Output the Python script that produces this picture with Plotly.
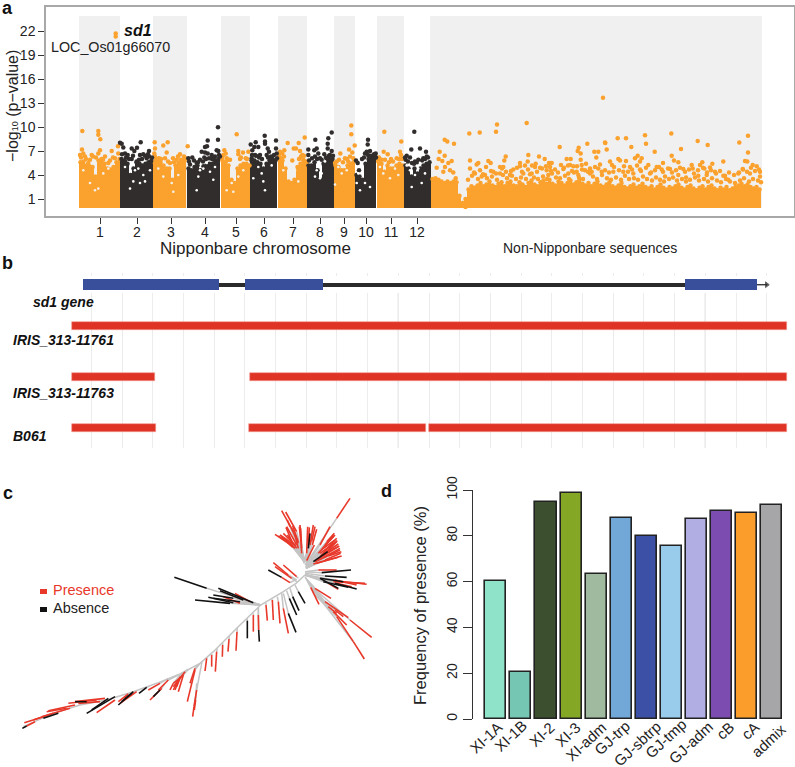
import plotly.graph_objects as go

W, H = 795, 767
FONT = "Liberation Sans"
ORANGE = "#fba12d"
DARK = "#312d2d"

def px(x):
    return x / W

def py(y):
    return 1 - y / H

# ---------- panel a data ----------
chrom_labels = ["1", "2", "3", "4", "5", "6", "7", "8", "9", "10", "11", "12"]
chrom_ticks = [100, 137, 171, 205, 236, 264, 293, 320, 344, 366, 391, 417]
chrom_edges = [79, 120, 153, 187, 221, 250, 278, 307, 334, 355, 377, 404, 430]
non_nip_end = 762
y_ticks = [1, 4, 7, 10, 13, 16, 19, 22]

chrom_envelopes = [
    [5.6, 5.7, 5.2, 5.1, 5.0, 3.8, 5.8, 6.0, 5.4, 4.8, 4.7, 5.0, 5.6, 6.0],
    [6.0, 5.8, 5.4, 4.0, 4.8, 5.6, 5.4, 5.2, 5.4, 5.6, 5.8],
    [5.6, 5.7, 5.6, 5.2, 4.8, 4.8, 3.4, 5.2, 5.5, 5.6, 5.8],
    [4.8, 4.6, 5.0, 5.2, 4.6, 5.1, 5.2, 5.4, 5.4, 5.8, 6.0],
    [5.8, 5.6, 5.2, 3.4, 3.0, 4.8, 5.2, 5.4, 5.4, 5.2],
    [5.8, 5.8, 5.6, 5.4, 4.8, 5.4, 5.8, 5.8, 5.8],
    [6.2, 5.8, 4.8, 3.2, 3.0, 3.4, 5.0, 5.4, 5.8, 5.6],
    [5.2, 5.2, 5.6, 4.6, 3.4, 5.4, 5.8, 6.0, 6.0],
    [5.2, 5.0, 4.6, 4.6, 5.2, 5.4, 5.6],
    [4.0, 3.8, 3.4, 5.4, 6.0, 6.2, 6.0],
    [5.8, 5.4, 4.4, 5.2, 4.8, 4.8, 5.2, 5.4, 5.2],
    [5.2, 4.8, 3.8, 4.8, 4.2, 4.8, 5.2, 5.4, 5.6],
]
scaffold_a_start = 431
scaffold_a_env = [3.5, 3.6, 3.4, 3.2, 3.0, 3.2, 3.0, 3.2, 3.1, 1.4, 0.5, 0.0]
scaffold_b_start = 464
scaffold_b_env = [
    1.0, 2.2, 2.6, 2.4, 2.7, 3.0, 2.6, 2.8, 3.2, 2.7, 2.5, 2.9, 3.1, 2.6, 3.0, 3.2, 2.7, 2.6, 3.1, 2.8,
    2.5, 3.0, 3.3, 2.8, 2.6, 3.1, 3.3, 2.9, 3.4, 2.9, 2.7, 3.2, 3.0, 2.7, 3.0, 3.3, 2.8, 3.1, 3.4, 2.9,
    2.7, 3.0, 2.6, 2.9, 3.2, 2.7, 2.5, 2.8, 3.1, 2.6, 2.4, 2.7, 3.0, 2.5, 2.3, 2.6, 2.8, 2.4, 2.6, 2.9,
    2.5, 2.3, 2.6, 2.2, 2.5, 2.8, 2.4, 2.2, 2.5, 2.3, 2.6, 2.8, 2.4, 2.2, 2.5, 2.7, 2.3, 2.1, 2.4, 2.6,
    2.2, 2.5, 2.7, 2.3, 2.1, 2.4, 2.2, 2.5, 2.1, 2.3, 2.5, 2.7, 2.9, 2.6, 2.8, 2.5, 2.3, 2.5, 2.2,
]

orange_x = [
    82.3, 98.3, 98.3, 100.3, 82, 83.3, 80, 91.7, 85, 90, 88.3, 100, 98.3, 105, 111.7, 118.3, 115, 108.3, 96, 118,
    154.7, 163.3, 167.7, 155, 154.3, 166.7, 173, 180, 187.7, 159, 165, 185, 176.7, 155, 170,
    236.7, 224.3, 225.7, 238.3, 243, 248.3, 238.3, 230, 226.7, 245.7, 240, 223.3,
    304.7, 287.7, 298.7, 293.7, 296, 284.3, 300, 302.3, 292.3, 282.3, 281, 303.3, 306.7,
    351.3, 351.3, 354.7, 349, 340.3, 352.3, 345, 336.7, 348.3, 353.3,
    384.3, 401.3, 383.7, 387.7, 400, 401, 378.3, 391, 396.7, 381.7,
    603, 444.7, 447.3, 454, 439.7, 444.7, 438.7, 442.3, 451.7, 448.3, 445, 453.3, 436.7, 450, 443.3, 455.7,
    469.3, 479.7, 496, 497, 526.7, 470, 488.3, 490.7, 476.7, 478.3, 505.7, 504.3, 500, 503.3, 528.3, 520, 520,
    525, 527.7, 513.3, 539, 535.7, 535, 540, 544.7, 549, 551.7, 550, 546.7, 559.7, 561, 563.3, 566.7, 570.7,
    570, 573.3, 576.7, 578.7, 577.7, 580.7, 594.3, 598.3, 596.3, 580.7, 581.7, 587.3, 598.3, 591.7, 585, 475,
    485, 493.3, 500, 605, 481.7, 510, 523.3, 531.7, 548.3, 568.3, 578.3, 590,
    617.7, 626, 645, 671.3, 605.3, 606.7, 646, 631.3, 654.7, 697.7, 707.7, 681, 748, 739.3, 748, 671.7, 637.7,
    635, 641.7, 640, 674, 678.3, 663, 723.3, 712.3, 702.3, 700, 691.7, 745, 747.3, 752.7, 756.7, 742.7, 760,
    618.3, 620, 626, 610, 612, 630, 640, 648.3, 656.7, 661.7, 670, 683.3, 692.7, 704.3, 710, 715, 723.3, 738.3,
    613.3, 623.3, 633.3, 650, 665, 678.3, 686, 698.3, 706.7, 728.3, 750, 760, 601.7,
    468, 472, 478, 483, 487, 492, 497, 503, 507, 512, 516, 521, 526, 530, 534, 538, 543, 547, 552, 556, 560,
    565, 569, 574, 579, 583, 588, 593, 597, 602, 607, 611, 616, 621, 625, 629, 634, 638, 643, 647, 652, 656,
    660, 664, 669, 673, 677, 682, 686, 690, 695, 699, 704, 708, 712, 717, 721, 726, 730, 735, 740, 744, 749,
    753, 758, 761,
    81, 86, 93, 103, 110, 113,
    156, 161, 168, 174, 181, 184, 178, 222, 228, 241, 247, 279, 280, 284, 301, 304, 299,
    335, 339, 343, 347, 350, 379, 385, 389, 393, 399, 402,
    470, 474, 480, 486, 491, 496, 502, 506, 511, 517, 522, 528, 532, 537, 542, 546, 551, 555, 558, 564, 568,
    572, 577, 582, 586, 590, 595, 600, 605, 609, 614, 619, 624, 628, 632, 637, 641, 646, 651, 655, 659, 663,
    668, 672, 676, 680, 685, 689, 694, 698, 703, 707, 711, 716, 720, 725, 729, 734, 739, 743, 747, 751, 755, 759,
]
orange_y = [
    9.5, 9.5, 9.04, 8.46, 7.2, 6.7, 6.5, 6.5, 6.3, 5.9, 5.5, 7.1, 6.7, 6.3, 7.0, 6.7, 6.1, 5.5, 6.2, 7.6,
    8.1, 7.7, 8.1, 7.3, 6.7, 6.8, 6.1, 6.6, 7.6, 6.1, 6.1, 6.1, 5.9, 6.3, 5.5,
    9.1, 7.1, 6.7, 7.0, 6.8, 6.9, 6.6, 5.9, 6.1, 6.1, 6.0, 6.5,
    8.7, 8.0, 8.0, 7.3, 7.3, 7.1, 7.0, 6.5, 5.8, 6.7, 6.1, 5.9, 5.7,
    10.2, 9.1, 7.7, 7.2, 6.7, 6.8, 6.1, 5.7, 5.7, 6.1,
    9.4, 8.2, 6.9, 6.6, 6.9, 6.5, 5.7, 6.0, 6.1, 5.9,
    13.67, 8.4, 8.2, 7.9, 6.9, 6.4, 6.0, 5.75, 5.75, 5.5, 5.0, 4.3, 4.9, 4.6, 4.4, 3.6,
    9.2, 9.3, 9.4, 10.3, 10.5, 5.8, 5.75, 5.5, 5.3, 5.5, 6.3, 5.8, 5.0, 5.0, 6.5, 5.5, 5.1,
    5.2, 5.7, 4.7, 6.3, 5.4, 5.0, 4.9, 6.0, 5.5, 5.5, 5.0, 4.6, 7.5, 5.25, 4.75, 6.0, 6.0,
    5.25, 5.1, 4.4, 7.4, 7.0, 6.7, 6.9, 6.9, 6.2, 5.9, 5.25, 7.9, 4.8, 4.4, 4.6, 4.2,
    4.0, 4.4, 4.2, 8.05, 3.8, 4.0, 4.2, 4.2, 4.0, 4.2, 4.0, 4.2,
    8.6, 8.6, 8.96, 9.2, 8.0, 7.2, 7.9, 7.5, 6.9, 8.25, 7.75, 7.25, 8.9, 8.05, 6.8, 6.4, 6.4,
    6.1, 6.1, 5.7, 5.8, 5.6, 5.5, 5.7, 5.4, 5.6, 5.25, 5.25, 5.75, 5.7, 5.25, 5.1, 4.75, 4.4,
    6.0, 5.8, 5.75, 5.7, 5.25, 5.0, 4.7, 5.25, 5.0, 4.7, 4.75, 4.75, 4.8, 4.8, 4.95, 4.4, 3.9, 4.2,
    4.4, 4.4, 4.2, 4.2, 3.8, 4.0, 3.7, 3.9, 4.0, 3.4, 4.2, 3.8, 4.4,
    3.4, 3.9, 3.5, 4.1, 3.6, 3.8, 3.4, 4.0, 3.6, 3.9, 3.5, 3.7, 3.5, 4.1, 3.7, 3.5, 3.8, 3.5, 4.2, 3.7, 3.6,
    3.9, 3.5, 4.3, 3.7, 3.5, 4.4, 3.8, 3.5, 4.0, 3.6, 3.4, 3.7, 3.4, 3.9, 3.5, 3.6, 3.4, 3.8, 3.5, 3.3, 3.7,
    3.4, 3.2, 3.5, 3.7, 3.3, 3.5, 3.2, 3.4, 3.7, 3.3, 3.5, 3.2, 3.6, 3.3, 3.1, 3.5, 3.2, 3.0, 3.3, 3.6, 3.2,
    3.5, 3.3, 3.1,
    6.2, 6.0, 6.3, 5.9, 5.8, 6.2,
    6.0, 6.0, 5.7, 5.6, 5.9, 6.3, 6.3, 6.2, 5.9, 6.2, 6.0, 6.6, 6.9, 6.3, 6.3, 6.4, 6.0,
    5.5, 5.9, 5.6, 6.0, 6.3, 6.2, 5.9, 5.6, 5.7, 6.0, 6.0,
    4.8, 4.3, 4.6, 5.0, 4.5, 4.2, 4.8, 4.4, 4.5, 4.9, 4.4, 4.7, 5.2, 4.4, 4.8, 5.1, 4.5, 4.7, 4.3, 4.9, 5.2,
    4.5, 5.1, 4.7, 5.4, 4.8, 5.0, 5.3, 4.6, 4.3, 5.0, 4.6, 5.1, 4.4, 4.7, 5.2, 4.5, 4.9, 4.3, 4.6, 5.0, 4.4,
    4.8, 4.3, 4.6, 4.9, 4.4, 4.7, 4.2, 4.6, 4.9, 4.3, 4.6, 4.2, 4.5, 3.9, 4.3, 4.0, 4.3, 4.7, 4.4, 4.9, 4.5, 4.7,
]
dark_x = [
    120, 121.7, 123.3, 125, 131.7, 134.3, 137, 140.7, 149, 143.3, 140, 131.7, 149, 136.7, 127.7, 151, 146.7, 125,
    218, 218, 207.7, 207, 205, 201.7, 205, 207.7, 216.7, 218.3, 211.7, 200, 204.3, 215, 209, 196.7, 188.3, 192.3, 189, 196.7,
    264.7, 276, 255.7, 250.7, 265, 265, 254.3, 252.3, 267.7, 276, 258.3, 255, 266.7, 260, 272.3, 269, 251.7, 276.7,
    315.3, 308.3, 314.3, 331.7, 328.3, 327.7, 327.7, 316.7, 318.3, 324.3, 331.7, 329, 315, 321.7, 308.3,
    368, 367.7, 356, 357.7, 366.7, 370, 375.7, 375, 365, 372.3,
    414.3, 411.3, 420, 426, 406.7, 410, 418.3, 423.3, 426.7, 415, 405.7,
    122, 126, 129, 133, 139, 142, 145, 148, 152, 190, 194, 198, 203, 206, 212, 214, 219, 220,
    252, 256, 259, 262, 268, 271, 274, 277, 309, 312, 317, 320, 326, 330, 333,
    359, 362, 364, 368, 371, 374, 376, 405, 408, 412, 414, 417, 422, 425, 428,
]
dark_y = [
    8.04, 7.9, 7.45, 6.7, 7.3, 7.0, 7.4, 8.1, 7.0, 6.6, 6.5, 6.0, 6.3, 5.7, 6.5, 5.7, 6.1, 5.7,
    9.96, 8.4, 8.3, 7.6, 7.5, 6.9, 6.8, 6.7, 7.1, 7.0, 6.5, 5.9, 6.2, 6.3, 6.1, 4.8, 6.1, 6.2, 5.7, 5.5,
    8.9, 8.3, 8.1, 7.8, 8.2, 7.9, 7.5, 7.1, 7.3, 7.3, 7.5, 6.5, 6.5, 6.5, 6.1, 6.9, 6.1, 6.7,
    8.4, 7.2, 7.1, 9.3, 8.6, 7.9, 7.3, 7.3, 6.7, 6.6, 7.0, 6.4, 6.3, 5.9, 6.5,
    8.4, 7.8, 5.8, 5.5, 6.9, 7.0, 6.7, 6.3, 6.7, 6.1,
    9.4, 7.2, 7.3, 6.9, 6.4, 6.2, 5.9, 6.1, 6.3, 5.7, 5.9,
    6.6, 6.2, 6.0, 6.4, 5.9, 6.0, 6.4, 6.6, 6.2, 5.3, 5.8, 5.6, 5.7, 6.0, 6.0, 5.9, 6.5, 6.3,
    6.5, 6.4, 6.2, 6.0, 6.2, 6.3, 6.5, 6.1, 5.8, 6.1, 6.0, 6.1, 6.2, 6.5, 6.4,
    4.6, 6.0, 6.2, 6.5, 6.4, 6.6, 6.2, 6.2, 5.7, 5.5, 5.4, 5.6, 5.8, 6.0, 6.2,
]
sd1_x = [115.7, 115.7]
sd1_y = [21.7, 21.3]

# small gaps inside the dense clouds
gap_dark_x = [133.3, 135, 130, 143.3, 145, 125, 138.3, 150, 140, 198.3, 196.7, 210, 203.3, 215, 206.7, 200, 213.3,
              263.3, 261.7, 265, 258.3, 271.7, 253.3, 320, 316.7, 318.3, 321.7, 325, 315, 356.7, 358.3, 361.7, 365,
              360, 370, 415, 421.7, 418.3, 410, 411.7, 425, 406.7, 420]
gap_dark_y = [3.2, 4.6, 2.3, 4.0, 3.2, 5.0, 4.8, 4.6, 3.0, 3.8, 2.1, 4.4, 4.8, 5.0, 5.5, 4.6, 3.4,
              3.2, 4.2, 2.1, 5.0, 5.2, 3.6, 3.6, 4.6, 5.2, 4.2, 5.7, 3.8, 3.0, 4.2, 5.0, 3.0,
              2.1, 2.5, 4.0, 3.0, 4.8, 4.6, 2.5, 4.2, 5.2, 5.5]
gap_orange_x = [90, 95, 98.3, 83.3, 108.3, 103.3, 173.3, 171.7, 163.3, 178.3, 158.3, 226.7, 231.7, 233.3, 238.3, 243.3,
                290, 295, 283.3, 298.3, 341.7, 338.3, 346.7, 335, 383.3, 390, 395, 380, 398.3]
gap_orange_y = [3.0, 2.1, 2.3, 4.6, 4.8, 4.2, 1.9, 3.0, 3.8, 4.0, 4.8, 2.1, 3.0, 1.9, 3.8, 4.6,
                3.8, 4.6, 4.6, 3.2, 4.2, 5.0, 4.6, 2.8, 4.2, 3.6, 4.8, 5.0, 4.0]

# ---------- panel b data ----------
grid_bp = list(range(0, 2300, 100))
major_grid_bp = [1000, 2000]
exon_starts = [-28, 500, 1934]
exon_ends = [417, 756, 2168]
intron_span = [417, 1934]
arrow_end = 2200
sample_rows = [0, 1, 1, 2, 2, 2]
sample_starts = [-63, -63, 517, -63, 513, 1100]
sample_ends = [2266, 208, 2266, 212, 1090, 2266]

# ---------- panel c data (tree layout units) ----------
trunk_x = [915, 888, 850, 782, 720, 640, 600, 540, 470, 400, 320, 240, 160, 70]
trunk_y = [315, 340, 365, 405, 465, 545, 580, 612, 640, 665, 690, 705, 730, 770]
presence_branches = [
    (915, 285, 1010, 145, 1050, 85), (913, 275, 880, 185, 845, 122), (913, 275, 890, 185, 857, 126),
    (913, 275, 880, 230, 825, 193), (913, 280, 890, 225, 860, 170), (913, 280, 895, 220, 875, 175),
    (913, 270, 905, 250, 900, 165), (913, 275, 885, 235, 845, 200), (913, 270, 920, 250, 923, 170),
    (915, 270, 930, 225, 940, 165), (916, 275, 937, 225, 950, 178), (918, 278, 920, 272, 943, 225),
    (918, 285, 960, 225, 990, 170), (918, 285, 955, 250, 1005, 195), (918, 290, 960, 260, 1010, 205),
    (918, 290, 950, 270, 1015, 230), (918, 290, 945, 275, 1020, 240), (918, 295, 940, 282, 1025, 258),
    (918, 295, 960, 250, 1000, 220), (915, 305, 955, 300, 1010, 300), (915, 315, 1005, 332, 1100, 343),
    (915, 315, 1005, 330, 1070, 345), (915, 315, 985, 340, 1015, 358), (895, 325, 890, 320, 850, 285),
    (890, 330, 865, 315, 820, 278), (890, 335, 875, 325, 825, 290), (885, 330, 870, 338, 845, 322),
    (915, 320, 932, 352, 957, 403), (918, 325, 945, 355, 993, 385), (925, 335, 975, 395, 1045, 443),
    (930, 345, 1050, 450, 1115, 502), (935, 350, 985, 410, 1010, 430), (935, 355, 1060, 515, 1093, 567),
    (945, 375, 1010, 440, 1060, 515), (845, 370, 850, 415, 865, 490), (832, 380, 835, 395, 840, 460),
    (815, 388, 817, 390, 820, 450), (798, 398, 798, 405, 802, 452), (775, 412, 775, 435, 776, 480),
    (760, 430, 760, 435, 760, 485), (712, 472, 711, 485, 708, 542), (688, 498, 687, 507, 684, 545),
    (668, 518, 668, 525, 667, 560), (652, 535, 650, 545, 646, 605), (636, 552, 635, 555, 635, 590),
    (622, 562, 620, 565, 615, 603), (782, 405, 750, 395, 705, 370), (782, 405, 720, 400, 670, 380),
    (606, 575, 590, 660, 582, 710), (590, 660, 582, 710, 578, 740), (600, 580, 585, 600, 562, 695),
    (600, 580, 585, 595, 570, 640), (565, 598, 555, 605, 520, 650), (560, 600, 550, 615, 535, 665),
    (555, 605, 540, 620, 525, 660), (535, 615, 505, 630, 475, 660), (505, 625, 480, 640, 445, 660),
    (495, 640, 485, 655, 450, 690), (410, 665, 410, 665, 360, 700), (345, 690, 345, 690, 290, 728),
    (315, 685, 315, 685, 225, 695), (225, 705, 225, 705, 145, 722), (210, 715, 210, 715, 125, 740),
    (130, 740, 130, 740, 73, 758), (105, 755, 105, 755, 80, 768),
    (913, 275, 885, 225, 850, 190), (913, 275, 888, 228, 840, 195), (913, 275, 880, 225, 858, 172),
    (913, 275, 895, 215, 878, 168), (913, 270, 903, 215, 898, 170), (913, 270, 905, 235, 902, 175),
    (915, 270, 925, 225, 928, 172), (915, 270, 935, 215, 945, 170), (918, 285, 965, 240, 1000, 195),
    (918, 285, 970, 235, 1005, 210), (918, 290, 975, 250, 1010, 215), (918, 290, 965, 255, 1015, 222),
    (918, 292, 970, 262, 1020, 235), (918, 295, 975, 270, 1022, 250), (918, 295, 950, 280, 1015, 262),
    (915, 315, 1000, 335, 1095, 340), (915, 315, 1010, 340, 1055, 350), (938, 360, 1000, 425, 1040, 465),
    (940, 365, 1005, 420, 1030, 440), (565, 598, 545, 620, 520, 640), (560, 600, 540, 625, 530, 650),
    (550, 610, 535, 630, 520, 660), (545, 610, 520, 640, 510, 660), (590, 640, 587, 690, 583, 720),
    (400, 668, 400, 668, 375, 685), (385, 672, 385, 672, 355, 695), (300, 695, 300, 695, 235, 700),
    (290, 690, 290, 690, 205, 700), (200, 715, 200, 715, 140, 725), (160, 730, 160, 730, 100, 750),
    (913, 275, 875, 225, 835, 198), (913, 275, 878, 232, 850, 205), (913, 275, 890, 235, 862, 195),
    (913, 275, 870, 170, 862, 150), (913, 275, 895, 235, 885, 195), (918, 285, 975, 225, 1000, 200),
    (918, 285, 980, 215, 1003, 190), (918, 290, 985, 235, 1012, 212), (918, 292, 985, 245, 1018, 228),
    (918, 295, 985, 258, 1024, 245),
]
absence_branches = [
    (916, 270, 925, 235, 930, 190), (918, 295, 940, 275, 983, 245), (915, 305, 965, 308, 1053, 300),
    (915, 310, 975, 318, 1040, 322), (915, 315, 960, 325, 1030, 335), (915, 315, 1005, 340, 1070, 357),
    (915, 315, 960, 325, 1015, 355), (845, 322, 845, 322, 805, 300), (885, 345, 895, 365, 915, 400),
    (870, 355, 878, 380, 897, 422), (860, 362, 868, 385, 890, 435), (850, 370, 865, 430, 888, 487),
    (775, 412, 776, 480, 778, 515), (742, 445, 742, 452, 742, 505), (782, 405, 620, 355, 523, 322),
    (782, 405, 700, 385, 640, 375), (782, 405, 760, 398, 655, 355), (782, 405, 690, 400, 585, 390),
    (782, 405, 700, 398, 625, 382), (485, 655, 480, 660, 460, 680), (445, 650, 440, 652, 417, 670),
    (405, 665, 400, 665, 355, 705), (345, 680, 345, 680, 260, 730), (325, 685, 325, 685, 275, 720),
    (260, 695, 260, 695, 225, 695), (175, 730, 175, 730, 130, 745), (80, 768, 80, 768, 67, 775),
    (782, 405, 730, 390, 660, 362), (782, 405, 720, 395, 640, 385), (915, 312, 970, 335, 1045, 352),
    (395, 670, 395, 670, 365, 695),
]

# ---------- panel d data ----------
groups = ["XI-1A", "XI-1B", "XI-2", "XI-3", "XI-adm", "GJ-trp", "GJ-sbtrp", "GJ-tmp", "GJ-adm", "cB", "cA", "admix"]
presence_freq = [60.4, 20.7, 94.8, 98.6, 63.3, 87.8, 79.9, 75.7, 87.5, 90.8, 90.0, 93.3]
group_colors = ["#8fe3c8", "#75c7b4", "#3c4f2e", "#84a826", "#9fba9e", "#72a8d8",
                "#3c50a5", "#99cbea", "#b0aee3", "#7d4cb0", "#fa9d2b", "#a6a6a8"]
freq_ticks = [0, 20, 40, 60, 80, 100]
group_label_x = [485.7, 511, 541.7, 567.7, 586, 612.3, 637.3, 665.7, 690.7, 725, 750, 768.3]
group_label_y = [737.3, 735.7, 734.3, 734.3, 741.7, 737.3, 743, 738.3, 742.3, 730, 730, 740]

fig = go.Figure()

# ---------- panel a ----------
shade_pairs = [(chrom_edges[i], chrom_edges[i + 1]) for i in range(0, 12, 2)] + [(chrom_edges[12], non_nip_end)]
for x0, x1 in shade_pairs:
    fig.add_shape(type="rect", xref="x", yref="y", x0=x0, x1=x1, y0=-0.125, y1=23.875,
                  fillcolor="#f0f0f0", line_width=0, layer="below")

def add_envelope(start, values, color):
    xs = [start + 1.5 + 3 * i for i in range(len(values))]
    fig.add_trace(go.Bar(x=xs, y=[v + 0.1 for v in values], base=-0.1, width=3.1, marker_color=color,
                         marker_line_width=0, xaxis="x", yaxis="y", showlegend=False))
    fig.add_trace(go.Scatter(x=xs, y=values, mode="markers", marker=dict(size=4.5, color=color),
                             xaxis="x", yaxis="y", showlegend=False))

for i, env in enumerate(chrom_envelopes):
    add_envelope(chrom_edges[i], env, ORANGE if i % 2 == 0 else DARK)
add_envelope(scaffold_a_start, scaffold_a_env, ORANGE)
add_envelope(scaffold_b_start, scaffold_b_env, ORANGE)

fig.add_trace(go.Scatter(x=orange_x, y=orange_y, mode="markers", marker=dict(size=4.5, color=ORANGE),
                         xaxis="x", yaxis="y", showlegend=False))
fig.add_trace(go.Scatter(x=dark_x, y=dark_y, mode="markers", marker=dict(size=4.5, color=DARK),
                         xaxis="x", yaxis="y", showlegend=False))
fig.add_trace(go.Scatter(x=gap_dark_x, y=gap_dark_y, mode="markers", marker=dict(size=2.6, color="#ffffff"),
                         xaxis="x", yaxis="y", showlegend=False))
fig.add_trace(go.Scatter(x=gap_orange_x, y=gap_orange_y, mode="markers", marker=dict(size=2.6, color="#f4f0e8"),
                         xaxis="x", yaxis="y", showlegend=False))
fig.add_trace(go.Scatter(x=sd1_x, y=sd1_y, mode="markers", marker=dict(size=4.5, color=ORANGE),
                         xaxis="x", yaxis="y", showlegend=False))

# ---------- panel b ----------
for b in major_grid_bp:
    fig.add_shape(type="line", xref="x2", yref="paper", x0=b, x1=b, y0=py(448), y1=py(293),
                  line=dict(color="#d2d2d2", width=1.3), layer="below")

fig.add_trace(go.Bar(y=[-0.81], x=[2590], base=[-297], width=[0.33], orientation="h", marker_color="white",
                     marker_line_width=0, xaxis="x2", yaxis="y2", showlegend=False))
fig.add_trace(go.Bar(y=[-0.81], x=[intron_span[1] - intron_span[0]], base=[intron_span[0]], width=[0.08],
                     orientation="h", marker_color="#2b2b2b", marker_line_width=0, xaxis="x2", yaxis="y2",
                     showlegend=False))
fig.add_trace(go.Scatter(x=[exon_ends[-1], arrow_end], y=[-0.81, -0.81], mode="lines+markers",
                         line=dict(color="#2b2b2b", width=1.3),
                         marker=dict(symbol="triangle-right", size=[0, 5], color="#111111"),
                         xaxis="x2", yaxis="y2", showlegend=False))
fig.add_trace(go.Bar(y=[-0.81] * len(exon_starts), x=[e - s for s, e in zip(exon_starts, exon_ends)],
                     base=exon_starts, width=0.215, orientation="h", marker_color="#394f9c",
                     marker_line_width=0, xaxis="x2", yaxis="y2", showlegend=False))
fig.add_trace(go.Bar(y=sample_rows, x=[e - s for s, e in zip(sample_starts, sample_ends)],
                     base=sample_starts, width=0.16, orientation="h", marker_color="#de3325",
                     marker_line=dict(color="#f29a90", width=0.6), xaxis="x2", yaxis="y2", showlegend=False))

# ---------- panel c ----------
def branch_lines(branches, part):
    xs, ys = [], []
    for bx, by, jx, jy, tx, ty in branches:
        if part == "base":
            xs += [bx, jx, None]
            ys += [by, jy, None]
        else:
            xs += [jx, tx, None]
            ys += [jy, ty, None]
    return xs, ys

gx, gy = branch_lines(presence_branches + absence_branches, "base")
fig.add_trace(go.Scatter(x=gx, y=gy, mode="lines", line=dict(color="#c4c4c4", width=1.5), xaxis="x3", yaxis="y3",
                         showlegend=False))
fig.add_trace(go.Scatter(x=trunk_x, y=trunk_y, mode="lines", line=dict(color="#c4c4c4", width=1.5), xaxis="x3",
                         yaxis="y3", showlegend=False))
rx, ry = branch_lines(presence_branches, "tip")
fig.add_trace(go.Scatter(x=rx, y=ry, mode="lines", line=dict(color="#e8382a", width=1.6), xaxis="x3", yaxis="y3",
                         showlegend=False))
kx, ky = branch_lines(absence_branches, "tip")
fig.add_trace(go.Scatter(x=kx, y=ky, mode="lines", line=dict(color="#111111", width=1.6), xaxis="x3", yaxis="y3",
                         showlegend=False))

# ---------- panel d ----------
fig.add_trace(go.Bar(x=list(range(len(groups))), y=presence_freq, width=0.84, marker_color=group_colors,
                     marker_line=dict(color="#222222", width=1.6), xaxis="x4", yaxis="y4", showlegend=False))

# ---------- text ----------
def note(text, x, y, size=14, color="#222222", xanchor="left", angle=0):
    fig.add_annotation(xref="paper", yref="paper", x=px(x - 2 if xanchor == "left" else x), y=py(y), text=text,
                       showarrow=False, xanchor=xanchor, yanchor="middle", textangle=angle,
                       font=dict(family=FONT, size=size, color=color))

note("<b>a</b>", 2, 8, 18, "#111111")
note("<b>b</b>", 2, 263, 18, "#111111")
note("<b>c</b>", 3, 493, 18, "#111111")
note("<b>d</b>", 381, 491, 18, "#111111")
note("−log<span style='font-size:9px'>10</span> (p−value)", 12, 106, 16, xanchor="center", angle=-90)
note("<b><i>sd1</i></b>", 124, 31, 16, "#111111")
note("LOC_Os01g66070", 51, 47, 14.3)
note("Nipponbare chromosome", 255, 248, 17, xanchor="center")
note("Non-Nipponbare sequences", 590, 248, 14, xanchor="center")
note("<b><i>sd1 gene</i></b>", 33, 302, 14, "#111111")
note("<b><i>IRIS_313-11761</i></b>", 13, 340, 14, "#111111")
note("<b><i>IRIS_313-11763</i></b>", 13, 393, 14, "#111111")
note("<b><i>B061</i></b>", 13, 436, 14, "#111111")
note("Presence", 53, 590, 14.5, "#e8382a")
note("Absence", 53, 608, 14.5, "#222222")
fig.add_shape(type="rect", xref="paper", yref="paper", x0=px(40), x1=px(47), y0=py(594), y1=py(589),
              fillcolor="#e8382a", line_width=0)
fig.add_shape(type="rect", xref="paper", yref="paper", x0=px(40), x1=px(47), y0=py(612), y1=py(607),
              fillcolor="#111111", line_width=0)
note("Frequency of presence (%)", 420, 606, 16.5, xanchor="center", angle=-90)
for name, lx, ly in zip(groups, group_label_x, group_label_y):
    note(name, lx, ly, 15, xanchor="center", angle=-43)

axis_font = dict(family=FONT, size=14, color="#222222")
fig.update_layout(
    width=W, height=H, margin=dict(l=0, r=0, t=0, b=0, autoexpand=False), autosize=False,
    paper_bgcolor="white", plot_bgcolor="rgba(0,0,0,0)", barmode="overlay", showlegend=False,
    bargap=0,
    xaxis=dict(domain=[px(46), px(794)], range=[46, 794], anchor="y", tickmode="array", tickvals=chrom_ticks,
               ticktext=chrom_labels, ticks="outside", ticklen=6, tickcolor="#333333", tickwidth=1,
               ticklabelstandoff=-4,
               showline=True, mirror=True, linecolor="#a8a8a8", linewidth=1.5, showgrid=False, zeroline=False,
               tickfont=axis_font),
    yaxis=dict(domain=[py(216), py(7)], range=[-1.125, 25], anchor="x", tickmode="array", tickvals=y_ticks,
               ticks="outside", ticklen=6, tickcolor="#333333", tickwidth=1, showline=True, mirror=True,
               linecolor="#a8a8a8", linewidth=1.5, showgrid=False, zeroline=False, tickfont=axis_font),
    xaxis2=dict(domain=[0, 1], range=[-297.7, 2292], anchor="y2", tickmode="array", tickvals=grid_bp,
                showticklabels=False, ticks="", showgrid=True, gridcolor="#ececec", gridwidth=1, zeroline=False,
                showline=False),
    yaxis2=dict(domain=[py(448), py(273)], range=[2.392, -1.04], anchor="x2", showticklabels=False, ticks="",
                showgrid=False, zeroline=False, showline=False),
    xaxis3=dict(domain=[0, px(390)], range=[0, 1170], anchor="y3", visible=False),
    yaxis3=dict(domain=[py(767), py(470)], range=[891, 0], anchor="x3", visible=False),
    xaxis4=dict(domain=[px(473), 1], range=[-0.908, 11.92], anchor="y4", tickmode="array",
                tickvals=list(range(len(groups))), showticklabels=False, ticks="", showline=False,
                showgrid=False, zeroline=False),
    yaxis4=dict(domain=[py(719), py(490)], range=[0, 100], anchor="x4", tickmode="array", tickvals=freq_ticks,
                tickangle=-90, ticks="outside", ticklen=9, tickcolor="#333333", tickwidth=1.2, showline=True,
                linecolor="#333333", linewidth=1.2, showgrid=False, zeroline=False, tickfont=axis_font),
)

fig.write_html("out.html", config={"displayModeBar": False})

# remove the browser's default page margin so the figure fills the 795x767 window
with open("out.html", encoding="utf-8") as fh:
    page = fh.read()
page = page.replace("<head>", "<head><style>html,body{margin:0;padding:0;overflow:hidden}</style>", 1)
with open("out.html", "w", encoding="utf-8") as fh:
    fh.write(page)
